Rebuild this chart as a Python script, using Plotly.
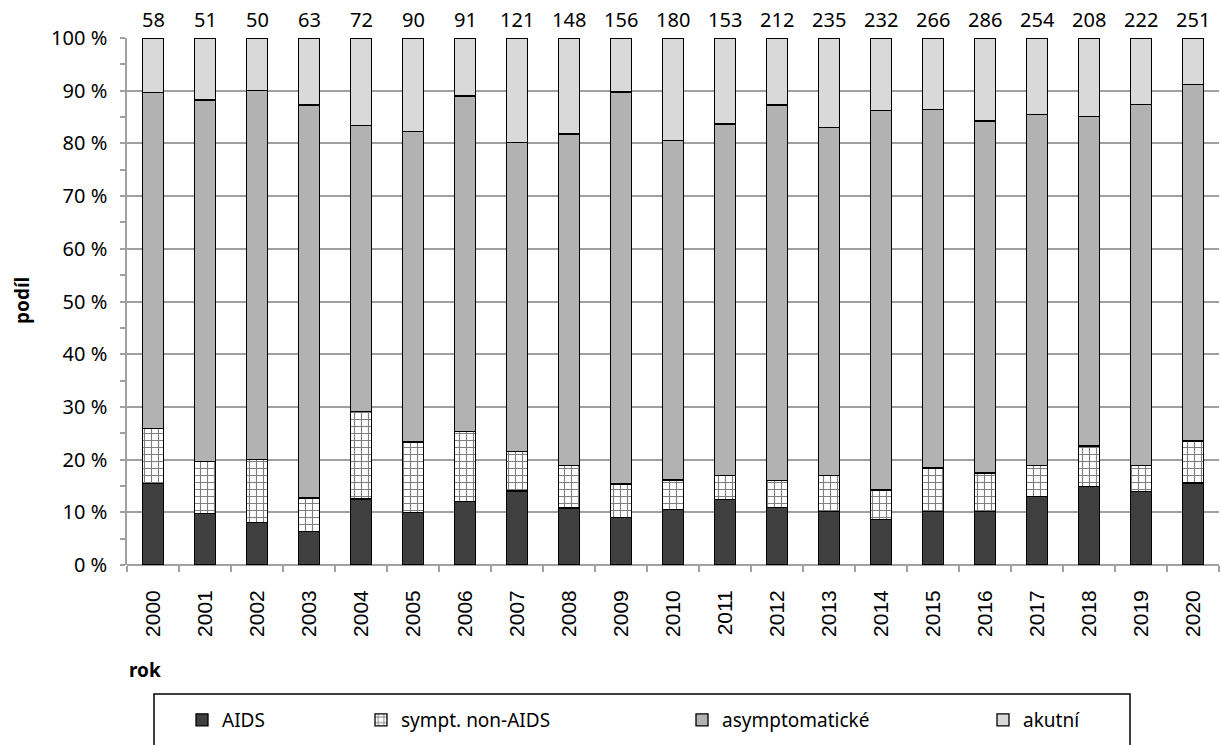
import plotly.graph_objects as go

years = [str(y) for y in range(2000, 2021)]
aids = [9, 5, 4, 4, 9, 9, 11, 17, 16, 14, 19, 19, 23, 24, 20, 27, 29, 33, 31, 31, 39]
sympt = [6, 5, 6, 4, 12, 12, 12, 9, 12, 10, 10, 7, 11, 16, 13, 22, 21, 15, 16, 11, 20]
asym = [37, 35, 35, 47, 39, 53, 58, 71, 93, 116, 116, 102, 151, 155, 167, 181, 191, 169, 130, 152, 170]
acute = [6, 6, 5, 8, 12, 16, 10, 24, 27, 16, 35, 25, 27, 40, 32, 36, 45, 37, 31, 28, 22]
totals = [a + b + c + d for a, b, c, d in zip(aids, sympt, asym, acute)]

series_names = ["AIDS", "sympt. non-AIDS", "asymptomatické", "akutní"]

FONT = "Noto Sans"
W, H = 1222, 745
L, R, T, B = 127, 3, 38, 180
PW = W - L - R
PH = H - T - B


def px(xp):
    return (xp - L) / PW


def py(yp):
    return (H - B - yp) / PH


line = dict(color="black", width=1.3)
fig = go.Figure()
fig.add_trace(go.Bar(x=years, y=aids, name=series_names[0], legend="legend",
                     marker=dict(color="#3f3f3f", line=line)))
fig.add_trace(go.Bar(x=years, y=sympt, name=series_names[1], legend="legend2",
                     marker=dict(color="white", line=line,
                                 pattern=dict(shape="+", fgcolor="black", bgcolor="white",
                                              size=7, solidity=0.3))))
fig.add_trace(go.Bar(x=years, y=asym, name=series_names[2], legend="legend3",
                     marker=dict(color="#b2b2b2", line=line)))
fig.add_trace(go.Bar(x=years, y=acute, name=series_names[3], legend="legend4",
                     marker=dict(color="#d9d9d9", line=line)))

# category index positions on the x axis
for i, tot in enumerate(totals):
    fig.add_annotation(x=i, y=1, xref="x", yref="paper", text=str(tot),
                       yanchor="bottom", xanchor="center", yshift=3, showarrow=False,
                       font=dict(family=FONT, size=20, color="black"))

leg_common = dict(orientation="h", yanchor="middle", xanchor="left",
                  font=dict(family=FONT, size=19, color="black"),
                  bgcolor="rgba(0,0,0,0)", borderwidth=0)
ly = py(720)
fig.update_layout(
    barmode="stack", barnorm="percent", bargap=0.6,
    width=W, height=H,
    margin=dict(l=L, r=R, t=T, b=B, pad=0, autoexpand=False),
    paper_bgcolor="white", plot_bgcolor="white",
    font=dict(family=FONT, size=19, color="black"),
    legend=dict(x=px(182), y=ly, **leg_common),
    legend2=dict(x=px(361), y=ly, **leg_common),
    legend3=dict(x=px(682), y=ly, **leg_common),
    legend4=dict(x=px(983), y=ly, **leg_common),
    xaxis=dict(type="category", range=[-0.5, len(years) - 0.5], autorange=False,
               showgrid=False, showline=False,
               ticks="outside", tickson="boundaries", ticklen=6, tickcolor="#a0a0a0",
               tickwidth=1.5, tickangle=-90, ticklabelstandoff=20,
               tickfont=dict(family="Liberation Sans", size=21, color="black")),
    yaxis=dict(range=[0, 100], dtick=10, ticksuffix=" %", showgrid=True,
               gridcolor="#a0a0a0", gridwidth=1.5, showline=True, linecolor="#a0a0a0",
               linewidth=1.5, ticks="outside", ticklen=5, tickcolor="#a0a0a0", tickwidth=1.5,
               ticklabelstandoff=9,
               minor=dict(dtick=5, ticks="outside", ticklen=5, tickcolor="#a0a0a0",
                          tickwidth=1.5, showgrid=False),
               zeroline=True, zerolinecolor="#a0a0a0", zerolinewidth=1.5,
               tickfont=dict(family=FONT, size=20, color="black")),
    showlegend=True,
)

fig.add_annotation(text="<b>rok</b>", x=0, y=py(670), xref="paper", yref="paper",
                   xanchor="left", yanchor="middle", showarrow=False,
                   font=dict(family=FONT, size=19, color="black"))
fig.add_annotation(text="<b>podíl</b>", x=px(22), y=py(301), xref="paper", yref="paper",
                   xanchor="center", yanchor="middle", showarrow=False, textangle=-90,
                   font=dict(family=FONT, size=19, color="black"))

fig.add_shape(type="rect", xref="paper", yref="paper",
              x0=px(154), x1=px(1130), y0=py(694), y1=py(770),
              line=dict(color="black", width=1.5), fillcolor="rgba(0,0,0,0)")

fig.write_html("out.html", config={"displayModeBar": False},
               post_script="document.body.style.margin='0';")
